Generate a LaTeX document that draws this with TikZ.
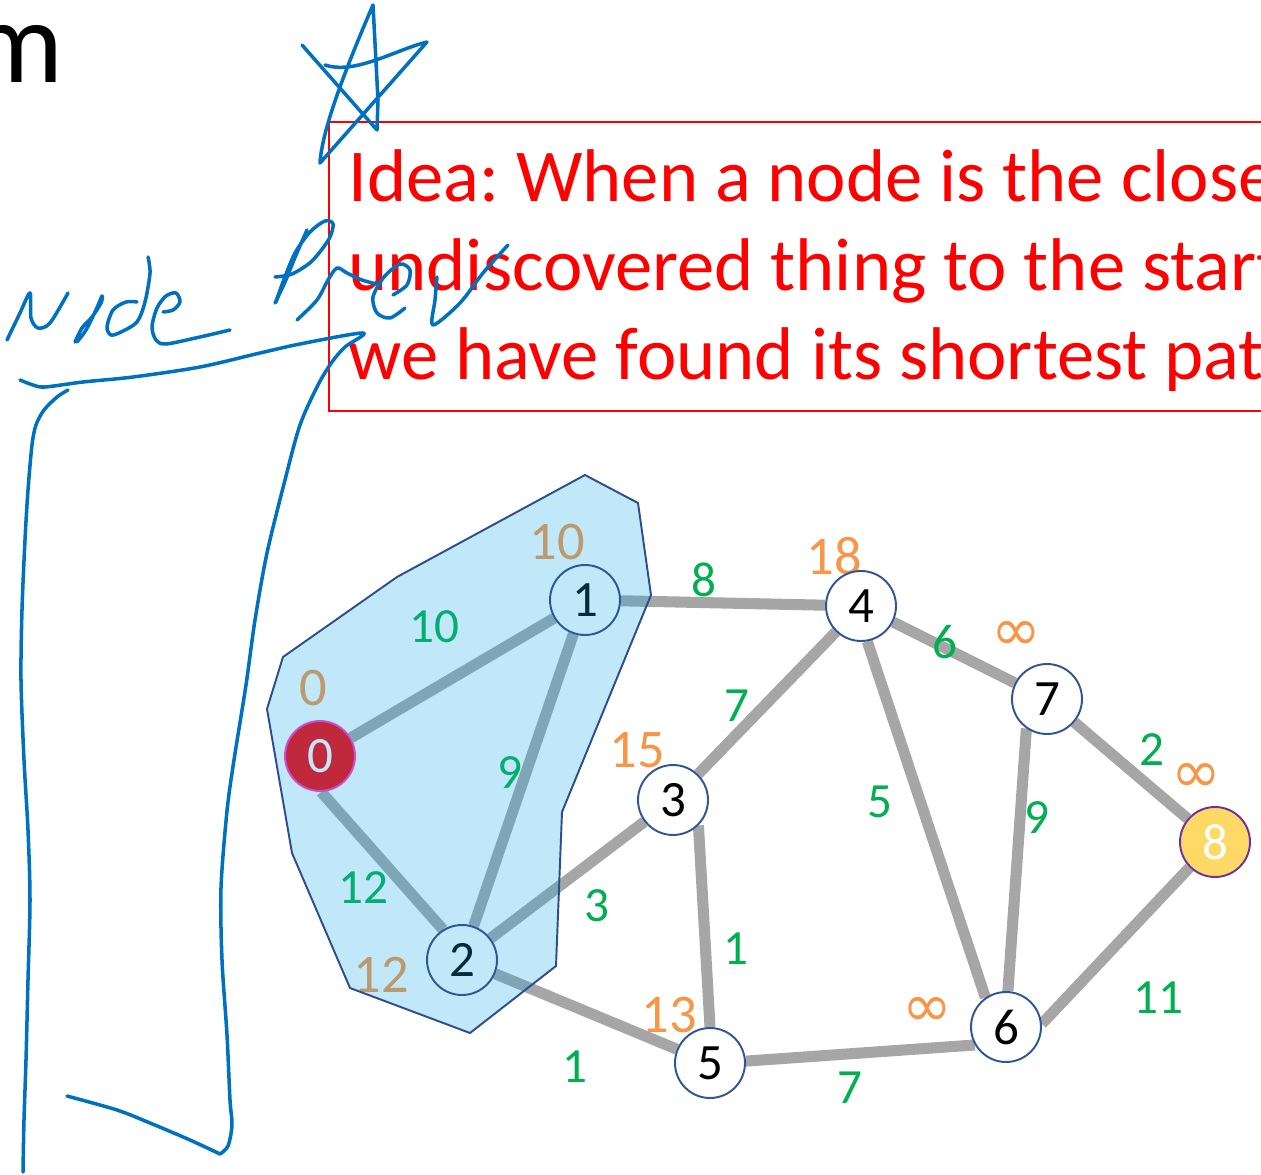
\documentclass[tikz,border=0pt]{standalone}
\usepackage{fontspec}
\setmainfont{Carlito}
\newfontfamily\symfont{DejaVu Sans}
\usetikzlibrary{backgrounds}
\frenchspacing

\definecolor{nodeblue}{HTML}{2F5597}
\definecolor{linkgray}{HTML}{A6A6A6}
\definecolor{wtgreen}{HTML}{00B050}
\definecolor{distorange}{HTML}{F79646}
\definecolor{inkblue}{HTML}{0070C0}
\definecolor{regionfill}{RGB}{16,166,228}
\definecolor{regionline}{HTML}{2E4C8E}
\definecolor{seenfill}{HTML}{C1E8F8}
\definecolor{seentext}{HTML}{042B3B}
\definecolor{startred}{HTML}{C0293B}
\definecolor{startrim}{HTML}{CC4FD0}
\definecolor{goalfill}{HTML}{FFD966}
\definecolor{goalrim}{HTML}{7030A0}

\begin{document}
\begin{tikzpicture}[x=0.02cm, y=-0.02cm,
    vtx/.style={circle, draw=nodeblue, line width=1.1pt, fill=white, minimum size=1.4cm,
      inner sep=0pt, font=\fontsize{29}{29}\selectfont},
    seen/.style={vtx, fill=seenfill, text=seentext},
    link/.style={draw=linkgray, line width=6.3pt},
    wt/.style={text=wtgreen, font=\fontsize{28}{28}\selectfont},
    dist/.style={text=distorange, font=\fontsize{31}{31}\selectfont},
    unreached/.style={dist, font=\symfont\fontsize{34}{34}\selectfont},
    ink/.style={draw=inkblue, line width=2pt, line cap=round, line join=round}]
    \useasboundingbox (0,0) rectangle (1261,1175);
    \clip (0,0) rectangle (1261,1175);

    % title remnant and the idea box
    \node[anchor=base west, inner sep=0pt, font=\fontsize{67}{67}\selectfont] (title) at (-31,83) {m};
    \draw[red, line width=0.7pt] (329,122) rectangle (1300,411);
    \node[anchor=base west, inner sep=0pt, text=red, font=\fontsize{42.5}{42.5}\selectfont] (idea1) at (348,202) {Idea: When a node is the closest};
    \node[anchor=base west, inner sep=0pt, text=red, font=\fontsize{42.5}{42.5}\selectfont] (idea2) at (348,291) {undiscovered thing to the start,};
    \node[anchor=base west, inner sep=0pt, text=red, font=\fontsize{42.5}{42.5}\selectfont] (idea3) at (348,380) {we have found its shortest path};

    % graph
    \node[vtx, fill=startred, draw=startrim, text=seenfill] (v0) at (320,756) {0};
    \node[seen] (v1) at (585,600) {1};
    \node[seen] (v2) at (462,960) {2};
    \node[vtx] (v3) at (673,800) {3};
    \node[vtx] (v4) at (861,606) {4};
    \node[vtx] (v5) at (710,1063) {5};
    \node[vtx] (v6) at (1006,1027) {6};
    \node[vtx] (v7) at (1047,699) {7};
    \node[vtx, fill=goalfill, draw=goalrim, text=white] (v8) at (1215,842) {8};

    \begin{scope}[on background layer]
        \foreach \a/\b in {v0/v1, v0.-88/v2.122, v1/v2, v1/v4, v2/v3, v2/v5, v3/v4, v3.-45/v5.90,
                           v4/v7, v4.-80/v6.125, v7.235/v6.87, v7/v8, v5.3/v6.210, v6.5/v8.225}
            \draw[link] (\a) -- (\b);

        % edge weights
        \node[wt] (w01) at (434,627) {10};
        \node[wt] (w12) at (510,773) {9};
        \node[wt] (w02) at (363,888) {12};
        \node[wt] (w23) at (597,906) {3};
        \node[wt] (w25) at (575,1067) {1};
        \node[wt] (w14) at (704,580) {8};
        \node[wt] (w34) at (737,706) {7};
        \node[wt] (w35) at (736,949) {1};
        \node[wt] (w46) at (880,802) {5};
        \node[wt] (w47) at (945,642) {6};
        \node[wt] (w78) at (1152,750) {2};
        \node[wt] (w76) at (1037,818) {9};
        \node[wt] (w56) at (850,1088) {7};
        \node[wt] (w68) at (1158,998) {11};

        % distances
        \node[dist] (d0) at (313,688) {0};
        \node[dist] (d1) at (557,542) {10};
        \node[dist] (d2) at (381,975) {12};
        \node[dist] (d3) at (637,750) {15};
        \node[dist] (d4) at (834,556) {18};
        \node[dist] (d5) at (669,1015) {13};
        \node[unreached] (d6) at (927,1012) {∞};
        \node[unreached] (d7) at (1016,636) {∞};
        \node[unreached] (d8) at (1196,778) {∞};

        % settled region
        \draw[regionline, line width=1.1pt, fill=regionfill, fill opacity=0.26]
            (585,475) -- (638,503) -- (651,595) -- (562,812) -- (556,966) -- (470,1033)
            -- (350,988) -- (292,853) -- (267,709) -- (283,657) -- (397,577) -- cycle;
    \end{scope}

    % pen strokes
    \draw[ink] (302,45) -- (377,130) -- (378,100) -- (373,5)
        .. controls (345,70) and (322,130) .. (320,163) -- (427,42)
        .. controls (395,50) and (355,75) .. (325,65);
    \draw[ink] plot[smooth] coordinates {(7,340) (20,313) (30,293) (31,318) (38,328) (50,323) (68,293)};
    \draw[ink] plot[smooth] coordinates {(75,342) (82,328) (92,317) (101,303) (102,296) (96,310) (86,330) (77,342)};
    \draw[ink] plot[smooth] coordinates {(137,302) (126,302) (113,310) (107,327) (111,335) (121,332) (137,322) (145,302) (150,273) (148,257)};
    \draw[ink] plot[smooth] coordinates {(163,312) (173,310) (180,302) (176,293) (166,296) (157,308) (152,327) (156,340) (166,344) (200,337) (230,330)};
    \draw[ink] plot[smooth] coordinates {(307,230) (296,255) (285,282) (275,303)};
    \draw[ink] plot[smooth] coordinates {(275,277) (292,274) (312,261) (329,239) (333,224) (325,221) (310,232) (295,253) (283,282) (276,302)};
    \draw[ink] plot[smooth] coordinates {(297,320) (317,300) (328,280) (337,268) (347,273) (362,280) (380,285)};
    \draw[ink] plot[smooth] coordinates {(393,295) (407,285) (410,270) (400,264) (384,277) (373,297) (377,313) (390,318) (405,308)};
    \draw[ink] plot[smooth] coordinates {(437,277) (435,300) (433,325) (460,303) (483,273) (508,245)};
    \draw[ink] plot[smooth] coordinates {(20,380) (33,385) (45,387) (83,382) (133,377) (200,367) (260,353) (300,344) (363,333)
        (345,347) (332,362) (318,385) (300,425) (285,480) (267,553) (255,620) (246,685) (234,760) (227,811) (221,888)
        (222,960) (227,1035) (230,1100) (232,1125) (228,1146) (220,1154)};
    \draw[ink] plot[smooth] coordinates {(67,1096) (117,1110) (150,1123) (190,1140) (220,1154)};
    \draw[ink] plot[smooth] coordinates {(68,390) (57,397) (44,410) (36,425) (32,445) (28,490) (25,540) (22,610) (21,680)
        (24,760) (28,830) (30,900) (28,980) (26,1060) (24,1120) (23,1172)};
\end{tikzpicture}
\end{document}
